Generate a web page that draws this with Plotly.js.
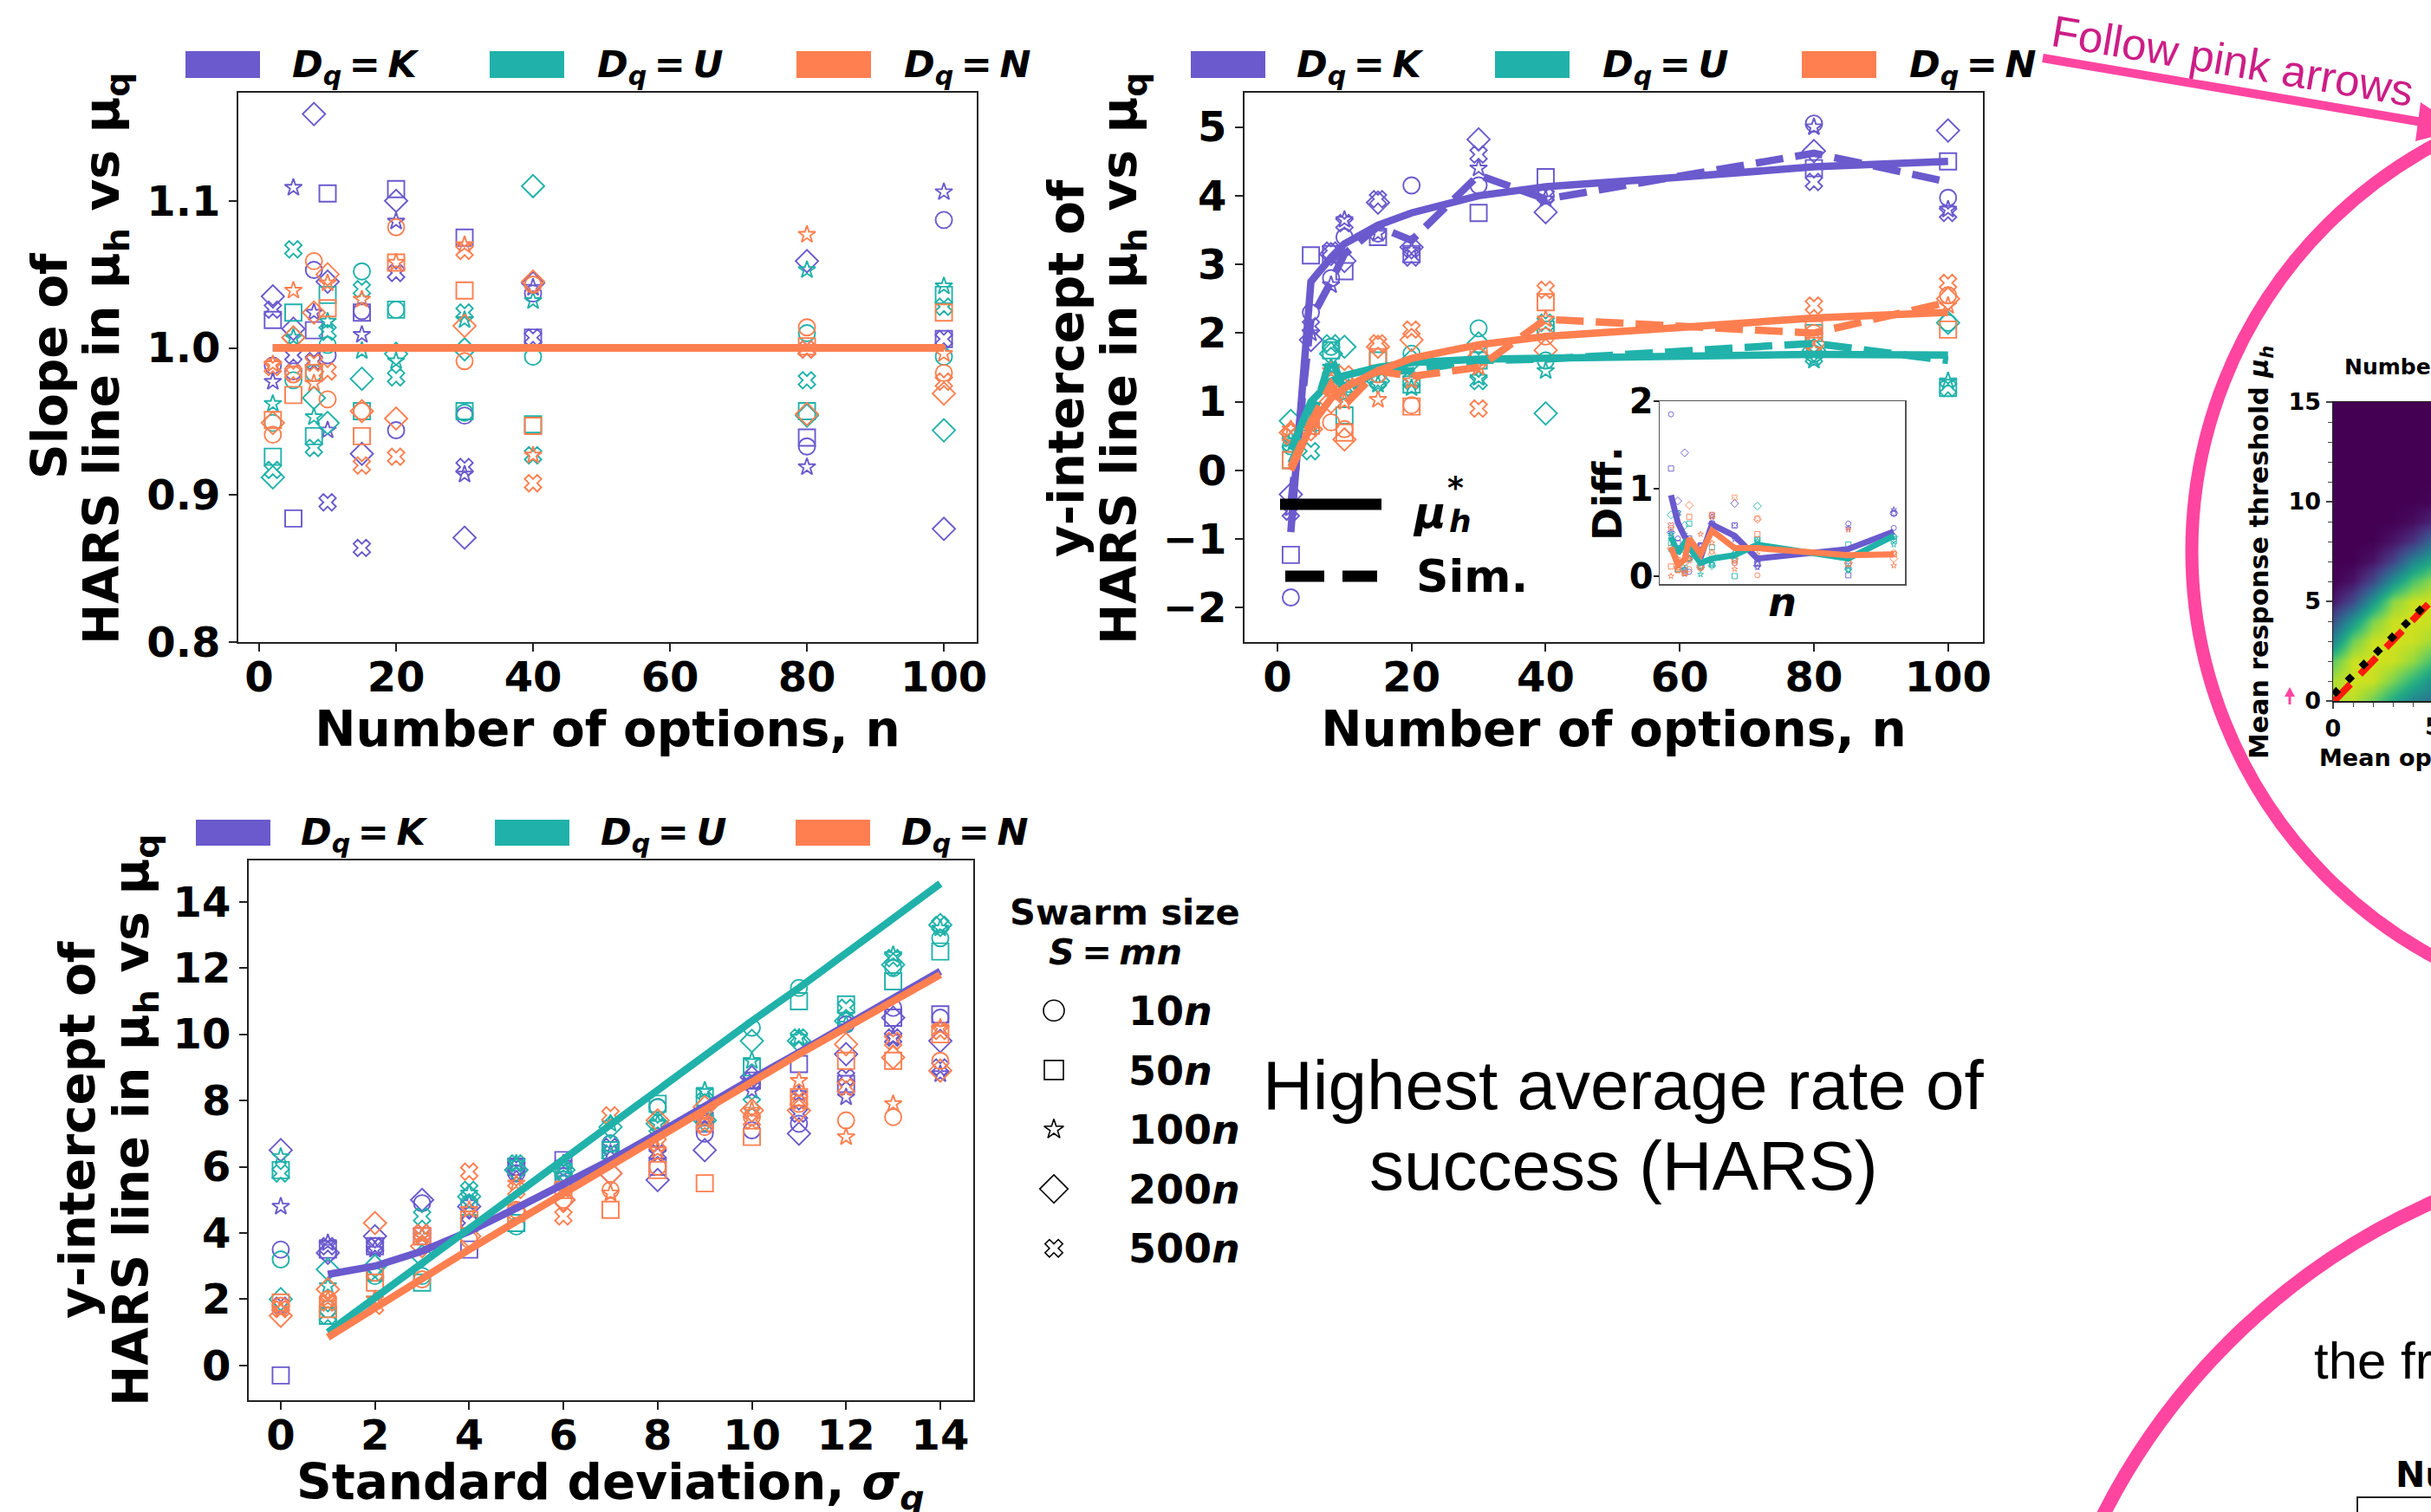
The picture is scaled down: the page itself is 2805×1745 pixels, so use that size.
<!DOCTYPE html>
<html><head><meta charset="utf-8">
<script src="https://cdn.plot.ly/plotly-3.0.1.min.js"></script>
<style>html,body{margin:0;padding:0;background:#fff;overflow:hidden}</style>
</head><body><div id="chart" style="width:2805px;height:1745px"></div>
<script>
const optionCounts = [2,5,8,10,15,20,30,40,80,100];
const sigmaValues = [0,1,2,3,4,5,6,7,8,9,10,11,12,13,14];

// Slope panel: swarm sizes 10n, 50n, 100n, 200n, 500n
const slopeK10 = [0.988,0.984,1.053,0.995,1.025,0.944,0.954,1.037,0.933,1.087];
const slopeK50 = [1.019,0.884,1.012,1.105,1.024,1.108,1.075,1.007,0.939,1.006];
const slopeK100 = [0.977,1.109,1.024,0.944,1.009,1.086,0.914,1.041,0.919,1.106];
const slopeK200 = [1.035,1.013,1.159,1.045,0.928,1.1,0.871,1.044,1.059,0.877];
const slopeK500 = [1.026,0.995,0.991,0.895,0.864,1.051,0.919,1.007,0.999,1.006];
const slopeU10 = [0.949,0.978,0.983,1.002,1.052,1.026,0.956,0.994,1.01,0.994];
const slopeU50 = [0.926,1.024,0.94,1.036,0.957,1.026,0.957,0.948,0.957,1.036];
const slopeU100 = [0.962,1.007,0.953,1.018,0.998,0.991,1.019,1.032,1.053,1.042];
const slopeU200 = [0.912,1.007,0.966,0.949,0.979,0.996,0.999,1.11,0.954,0.944];
const slopeU500 = [0.917,1.067,0.932,1.011,1.04,0.98,1.024,0.927,0.978,1.028];
const slopeN10 = [0.941,0.982,1.059,0.965,0.957,1.082,0.991,1.043,1.014,0.983];
const slopeN50 = [0.951,0.968,0.983,1.027,0.94,1.058,1.039,0.947,1.001,1.024];
const slopeN100 = [0.989,1.039,0.976,1.044,1.033,1.058,1.07,0.927,1.077,0.996];
const slopeN200 = [0.949,1.007,1.024,1.05,0.957,0.952,1.015,1.045,0.955,0.969];
const slopeN500 = [0.987,0.983,0.99,0.984,0.92,0.926,1.066,0.908,0.999,0.977];
const slopeUnity = [1,1,1,1,1,1,1,1,1,1];

// y-intercept versus n panel
const interK10 = [-1.85,2.3,2.8,3.4,3.45,4.15,4.15,4.0,5.05,3.97];
const interK50 = [-1.23,3.13,3.15,2.9,3.4,3.15,3.75,4.27,4.4,4.5];
const interK100 = [-0.55,2.0,2.7,3.65,3.45,3.2,4.4,3.95,5.0,3.8];
const interK200 = [-0.35,1.9,3.15,3.05,3.9,3.25,4.82,3.76,4.65,4.95];
const interK500 = [-0.6,2.1,3.2,3.6,3.95,3.1,4.6,4.0,4.2,3.75];
const interU10 = [0.35,0.8,1.8,1.3,1.4,1.7,2.07,1.6,1.7,2.15];
const interU50 = [0.15,0.7,1.75,0.8,1.6,1.25,1.6,2.05,2.0,1.2];
const interU100 = [0.45,0.65,1.5,1.1,1.25,1.2,1.35,1.45,1.6,1.3];
const interU200 = [0.72,0.85,1.7,1.8,1.3,1.6,1.85,0.83,1.75,2.15];
const interU500 = [0.4,0.28,1.85,1.2,1.3,1.3,1.3,2.15,1.65,1.2];
const interN10 = [0.55,0.7,0.7,0.6,1.4,0.95,1.65,1.95,2.0,2.55];
const interN50 = [0.15,0.65,1.3,0.55,1.65,0.93,1.7,2.45,2.05,2.05];
const interN100 = [0.6,0.6,1.45,1.0,1.03,1.3,1.5,2.2,1.75,2.4];
const interN200 = [0.55,0.6,1.0,0.45,1.8,1.9,1.65,1.75,1.85,2.5];
const interN500 = [0.5,0.75,1.2,1.4,1.85,2.05,0.9,2.63,2.4,2.73];
const theoryCounts = [2,5,8,10,15,20,30,40,60,80,100];
const theoryK = [-0.9,2.75,3.1,3.3,3.57,3.75,4.0,4.13,4.27,4.42,4.5];
const theoryU = [0.3,1.0,1.3,1.38,1.5,1.57,1.62,1.63,1.67,1.69,1.68];
const theoryN = [0.0,0.65,1.05,1.2,1.45,1.63,1.83,1.95,2.08,2.22,2.3];
const simK = [-0.5,2.2,2.75,3.15,3.55,3.35,4.3,3.95,4.62,4.2];
const simU = [0.1,0.7,1.65,1.15,1.45,1.45,1.6,1.62,1.85,1.6];
const simN = [0.05,0.7,1.25,0.95,1.45,1.37,1.5,2.2,2.0,2.45];

// Inset: difference panel
const diffK10 = [1.85,0.43,0.04,0.05,0.35,0.7,0.15,0.14,0.6,0.55];
const diffK50 = [1.23,0.38,0.06,0.43,0.35,0.6,0.58,0.15,0.01,0.72];
const diffK100 = [0.5,0.72,0.08,0.4,0.35,0.68,0.42,0.1,0.55,0.76];
const diffK200 = [0.5,0.86,1.41,0.2,0.12,0.6,0.83,0.12,0.15,0.72];
const diffK500 = [0.58,0.72,0.03,0.2,0.35,0.58,0.58,0.14,0.12,0.72];
const diffU10 = [0.3,0.07,0.07,0.2,0.1,0.13,0.18,0.42,0.08,0.45];
const diffU50 = [0.38,0.08,0.34,0.6,0.12,0.33,0.0,0.42,0.36,0.42];
const diffU100 = [0.48,0.28,0.48,0.2,0.02,0.14,0.22,0.4,0.07,0.36];
const diffU200 = [0.7,0.3,0.58,0.4,0.1,0.12,0.25,0.8,0.08,0.45];
const diffU500 = [0.45,0.72,0.1,0.2,0.1,0.13,0.25,0.42,0.15,0.4];
const diffN10 = [0.55,0.1,0.04,0.08,0.1,0.28,0.15,0.01,0.2,0.27];
const diffN50 = [0.11,0.07,0.3,0.68,0.1,0.7,0.18,0.48,0.14,0.25];
const diffN100 = [0.0,0.2,0.03,0.2,0.48,0.38,0.08,0.25,0.53,0.12];
const diffN200 = [0.32,0.1,0.15,0.81,0.1,0.25,0.2,0.65,0.15,0.2];
const diffN500 = [0.58,0.07,0.03,0.18,0.12,0.68,0.9,0.66,0.2,0.25];
const diffLineK = [0.925,0.61,0.45,0.38,0.21,0.59,0.46,0.2,0.31,0.51];
const diffLineU = [0.45,0.26,0.38,0.33,0.15,0.2,0.24,0.36,0.2,0.46];
const diffLineN = [0.33,0.13,0.19,0.43,0.25,0.52,0.32,0.32,0.24,0.25];

// y-intercept versus standard deviation panel
const sigK10 = [3.5,3.4,3.6,4.9,4.3,5.8,5.5,6.7,7.8,7.0,7.1,7.3,10.3,10.8,10.5];
const sigK50 = [-0.3,3.5,3.6,3.9,3.5,6.0,6.2,6.5,6.0,7.3,8.6,9.1,8.5,10.5,10.6];
const sigK100 = [4.8,3.7,3.5,3.9,4.9,5.8,6.1,6.4,6.4,7.5,8.3,8.2,8.1,9.9,8.8];
const sigK200 = [6.5,3.4,3.9,5.0,4.8,5.9,5.0,5.8,5.6,6.5,8.7,7.0,9.4,10.5,9.8];
const sigK500 = [1.8,3.6,3.6,4.0,4.3,6.0,5.6,6.6,6.4,7.5,8.6,7.6,8.7,9.9,9.0];
const sigU10 = [3.2,1.7,2.7,2.7,4.9,4.2,5.8,6.7,7.8,7.5,10.2,11.4,10.4,12.0,12.9];
const sigU50 = [5.9,1.5,2.8,2.5,4.3,4.3,5.6,6.5,7.9,8.1,9.0,11.0,10.9,11.6,12.5];
const sigU100 = [6.3,2.4,2.0,3.9,5.2,6.1,6.0,7.3,7.3,8.3,9.2,9.9,10.3,12.4,13.2];
const sigU200 = [2.0,2.9,3.0,3.3,5.1,5.9,5.9,7.2,7.3,7.4,9.8,9.8,10.4,12.1,13.3];
const sigU500 = [5.8,1.5,2.8,4.5,5.3,6.1,5.9,6.4,7.2,8.0,7.9,9.9,10.8,12.3,13.3];
const sigN10 = [1.8,2.0,2.8,2.6,3.8,4.7,5.0,5.3,6.0,7.2,7.5,7.9,7.4,7.5,9.2];
const sigN50 = [1.9,1.7,2.5,3.9,4.4,4.6,5.3,4.7,5.9,5.5,6.9,8.1,9.2,9.2,10.0];
const sigN100 = [1.7,2.0,2.0,3.9,4.7,5.5,5.3,5.2,6.5,7.4,7.7,8.6,6.9,7.9,10.2];
const sigN200 = [1.5,2.3,4.3,3.6,3.9,4.6,5.0,5.8,7.4,7.8,7.7,7.7,9.7,9.3,8.9];
const sigN500 = [1.7,1.9,1.8,4.0,5.85,5.3,4.5,7.55,6.7,7.3,7.4,8.0,8.4,9.8,10.1];
const sigLineX = [1,2,3,4,5,6,7,8,9,10,11,12,13,14];
const sigLineK = [2.75,3.0,3.45,4.05,4.75,5.45,6.2,7.0,7.85,8.65,9.45,10.25,11.1,11.9];
const sigLineU = [1.0,2.05,3.1,4.15,5.2,6.25,7.3,8.3,9.35,10.4,11.4,12.45,13.5,14.55];
const sigLineN = [0.85,1.75,2.6,3.5,4.35,5.2,6.05,6.9,7.75,8.6,9.4,10.2,11.0,11.8];

// Cropped heatmap at the right edge
const heatX = [0,1,2,3,4,5];
const heatY = [0,1,2,3,4,5,6,7,8,9,10,11,12,13,14,15];
const heatRow0 = [0.88,0.9,0.78,0.6,0.45,0.38];
const heatRow1 = [0.88,0.93,0.92,0.8,0.65,0.5];
const heatRow2 = [0.75,0.92,0.93,0.92,0.84,0.7];
const heatRow3 = [0.45,0.78,0.92,0.93,0.92,0.86];
const heatRow4 = [0.25,0.52,0.8,0.92,0.93,0.92];
const heatRow5 = [0.06,0.22,0.52,0.82,0.92,0.93];
const heatRow6 = [0,0.05,0.22,0.5,0.72,0.84];
const heatRow7 = [0,0,0.05,0.2,0.45,0.6];
const heatRow8 = [0,0,0,0.05,0.15,0.35];
const heatRow9 = [0,0,0,0,0.03,0.1];
const heatRow10 = [0,0,0,0,0,0.01];
const heatRowZero = [0,0,0,0,0,0];
const heatDiamondX = [0.145,0.84,1.54,2.25,2.96,3.65,4.35];
const heatDiamondY = [0.45,1.13,1.83,2.5,3.19,3.87,4.55];
const heatLineX = [0.05,4.91];
const heatLineY = [0,5.0];

const swarmLabels = ['10','50','100','200','500'];
const distNames = ['K','U','N'];

const W = 2805, H = 1745;
const X = p => p / W, Y = p => 1 - p / H;
const font = 'DejaVu Sans, sans-serif';
const sans = 'Liberation Sans, Arial, sans-serif';
const PURPLE = '#6A5ACD', TEAL = '#20B2AA', CORAL = '#FF7F50', PINK = '#FF45A0';
const symbols = ['circle-open','square-open','star-open','diamond-open','x-open'];
const bigSizes = [19,19,15,20,17];
const smallSizes = [6,6,5,7,6];
const swarmSizes = [24,22,17,25,18];

const traces = [];
function addMarkers(xa, ya, xs, groups, color, sizes, lw){
  groups.forEach((ys, i) => traces.push({type:'scatter', mode:'markers', xaxis:xa, yaxis:ya, x:xs, y:ys, showlegend:false,
    marker:{symbol:symbols[i], size:sizes[i], color:color, line:{color:color, width:lw}}}));
}
function addLine(xa, ya, xs, ys, color, width, dash){
  traces.push({type:'scatter', mode:'lines', xaxis:xa, yaxis:ya, x:xs, y:ys, showlegend:false,
    line:{color:color, width:width, dash:dash||'solid'}});
}
const DASH = '32px,14px';
// Slope panel
addMarkers('x','y',optionCounts,[slopeK10,slopeK50,slopeK100,slopeK200,slopeK500],PURPLE,bigSizes,1.9);
addMarkers('x','y',optionCounts,[slopeU10,slopeU50,slopeU100,slopeU200,slopeU500],TEAL,bigSizes,1.9);
addMarkers('x','y',optionCounts,[slopeN10,slopeN50,slopeN100,slopeN200,slopeN500],CORAL,bigSizes,1.9);
addLine('x','y',optionCounts,slopeUnity,PURPLE,9);
addLine('x','y',optionCounts,slopeUnity,TEAL,9);
addLine('x','y',optionCounts,slopeUnity,CORAL,9);
// Intercept panel
addMarkers('x2','y2',optionCounts,[interK10,interK50,interK100,interK200,interK500],PURPLE,bigSizes,1.9);
addMarkers('x2','y2',optionCounts,[interU10,interU50,interU100,interU200,interU500],TEAL,bigSizes,1.9);
addMarkers('x2','y2',optionCounts,[interN10,interN50,interN100,interN200,interN500],CORAL,bigSizes,1.9);
addLine('x2','y2',optionCounts,simK,PURPLE,8.5,DASH);
addLine('x2','y2',theoryCounts,theoryK,PURPLE,8.5);
addLine('x2','y2',optionCounts,simU,TEAL,8.5,DASH);
addLine('x2','y2',theoryCounts,theoryU,TEAL,8.5);
addLine('x2','y2',optionCounts,simN,CORAL,8.5,DASH);
addLine('x2','y2',theoryCounts,theoryN,CORAL,8.5);
// Inset
addMarkers('x3','y3',optionCounts,[diffK10,diffK50,diffK100,diffK200,diffK500],PURPLE,smallSizes,0.9);
addMarkers('x3','y3',optionCounts,[diffU10,diffU50,diffU100,diffU200,diffU500],TEAL,smallSizes,0.9);
addMarkers('x3','y3',optionCounts,[diffN10,diffN50,diffN100,diffN200,diffN500],CORAL,smallSizes,0.9);
addLine('x3','y3',optionCounts,diffLineK,PURPLE,7);
addLine('x3','y3',optionCounts,diffLineU,TEAL,7);
addLine('x3','y3',optionCounts,diffLineN,CORAL,7);
// Sigma panel
addMarkers('x4','y4',sigmaValues,[sigK10,sigK50,sigK100,sigK200,sigK500],PURPLE,bigSizes,1.9);
addMarkers('x4','y4',sigmaValues,[sigU10,sigU50,sigU100,sigU200,sigU500],TEAL,bigSizes,1.9);
addMarkers('x4','y4',sigmaValues,[sigN10,sigN50,sigN100,sigN200,sigN500],CORAL,bigSizes,1.9);
addLine('x4','y4',sigLineX,sigLineK,PURPLE,8.5);
addLine('x4','y4',sigLineX,sigLineU,TEAL,8.5);
addLine('x4','y4',sigLineX,sigLineN,CORAL,8.5);
// Heatmap
traces.push({type:'heatmap', xaxis:'x5', yaxis:'y5', x:heatX, y:heatY, colorscale:'Viridis', zmin:0, zmax:1, zsmooth:'best', showscale:false,
  z:[heatRow0,heatRow1,heatRow2,heatRow3,heatRow4,heatRow5,heatRow6,heatRow7,heatRow8,heatRow9,heatRow10,heatRowZero,heatRowZero,heatRowZero,heatRowZero,heatRowZero]});
addLine('x5','y5',heatLineX,heatLineY,'#FF1A0A',8,'27px,16px');
traces.push({type:'scatter', mode:'markers', xaxis:'x5', yaxis:'y5', x:heatDiamondX, y:heatDiamondY, showlegend:false,
  marker:{symbol:'diamond', size:9, color:'#000'}});
// Swarm size key
swarmLabels.forEach((s,i)=>traces.push({type:'scatter', mode:'markers', xaxis:'x6', yaxis:'y6', x:[0], y:[i], showlegend:false,
  marker:{symbol:symbols[i], size:swarmSizes[i], color:'#000', line:{color:'#000', width:1.6}}}));

function panelAxes(xd, yd, xr, yr, xticks, yticks, fs){
  const base = {showline:true, mirror:true, linecolor:'#222', linewidth:2, showgrid:false, zeroline:false,
    ticks:'outside', ticklen:9, tickwidth:2, tickcolor:'#222', tickmode:'array', tickfont:{family:font,size:fs,color:'#000',weight:'bold'}};
  return [
    Object.assign({}, base, {domain:[X(xd[0]),X(xd[1])], range:xr, tickvals:xticks, ticktext:xticks.map(String), ticklabelstandoff:-12}),
    Object.assign({}, base, {domain:[Y(yd[1]),Y(yd[0])], range:yr, tickvals:yticks, ticktext:yticks.map(t=> t<0?'\u2212'+(-t):String(t))})
  ];
}
const layout = {width:W, height:H, margin:{l:0,r:0,t:0,b:0,pad:0}, paper_bgcolor:'#fff', plot_bgcolor:'#fff', showlegend:false, font:{family:font}};
const titleFont = {family:font,size:56.5,color:'#000',weight:'bold'};
[layout.xaxis, layout.yaxis] = panelAxes([275,1127],[107,741],[-3.04,104.8],[0.8,1.1735],[0,20,40,60,80,100],[0.8,0.9,1.0,1.1],48);
layout.yaxis.ticktext = ['0.8','0.9','1.0','1.1'];
[layout.xaxis2, layout.yaxis2] = panelAxes([1436,2288],[107,741],[-4.9,105.2],[-2.5,5.5],[0,20,40,60,80,100],[-2,-1,0,1,2,3,4,5],48);
[layout.xaxis3, layout.yaxis3] = panelAxes([1915,2198],[463,674],[-3,104.9],[-0.09,2],[],[0,1,2],40);
layout.xaxis3.ticks=''; layout.xaxis3.showticklabels=false; layout.xaxis3.linewidth=1.5; layout.yaxis3.linewidth=1.5; layout.xaxis3.linecolor='#555'; layout.yaxis3.linecolor='#555';
layout.yaxis3.ticklen=6; layout.yaxis3.ticklabelstandoff=-8;
[layout.xaxis4, layout.yaxis4] = panelAxes([287,1123],[993,1616],[-0.68,14.7],[-1.05,15.25],[0,2,4,6,8,10,12,14],[0,2,4,6,8,10,12,14],48);
layout.xaxis.anchor='y'; layout.yaxis.anchor='x';
layout.xaxis2.anchor='y2'; layout.yaxis2.anchor='x2';
layout.xaxis3.anchor='y3'; layout.yaxis3.anchor='x3';
layout.xaxis4.anchor='y4'; layout.yaxis4.anchor='x4';
layout.xaxis.title={text:'Number of options, n',font:titleFont,standoff:10};
layout.xaxis2.title={text:'Number of options, n',font:titleFont,standoff:10};
layout.xaxis3.title={text:'<i>n</i>',font:{family:font,size:46,color:'#000',weight:'bold'},standoff:4};
const heatFont = {family:font,size:27,color:'#000',weight:'bold'};
layout.xaxis5 = {domain:[X(2692),1], range:[0,4.91], anchor:'y5', showline:true, mirror:true, linecolor:'#222', linewidth:1.5, showgrid:false, zeroline:false,
  ticks:'outside', ticklen:7, tickwidth:1.5, tickmode:'array', tickvals:[0,5], ticktext:['0','5'], tickfont:heatFont, minor:{dtick:1,ticks:'outside',ticklen:5,tickwidth:1}};
layout.yaxis5 = {domain:[Y(809),Y(464)], range:[0,15], anchor:'x5', showline:true, linecolor:'#222', linewidth:1.5, showgrid:false, zeroline:false,
  ticks:'outside', ticklen:7, tickwidth:1.5, tickmode:'array', tickvals:[0,5,10,15], ticktext:['0','5','10','15'], tickfont:heatFont, minor:{dtick:1,ticks:'outside',ticklen:5,tickwidth:1}};
layout.xaxis6 = {domain:[X(1190),X(1242)], range:[-1,1], anchor:'y6', visible:false, fixedrange:true};
layout.yaxis6 = {domain:[Y(1475),Y(1132)], range:[4.5,-0.5], anchor:'x6', visible:false, fixedrange:true};

const shapes = [], annotations = [];
function txt(x,y,text,size,opts){
  annotations.push(Object.assign({xref:'paper',yref:'paper',x:X(x),y:Y(y),text:text,showarrow:false,xanchor:'left',yanchor:'middle',
    font:{family:font,size:size,color:'#000'}},opts||{}));
}
function legendRow(patchX, textX, y0, y1){
  [PURPLE,TEAL,CORAL].forEach((c,i)=>{
    shapes.push({type:'rect',xref:'paper',yref:'paper',x0:X(patchX[i]),x1:X(patchX[i]+86),y0:Y(y1),y1:Y(y0),fillcolor:c,line:{width:0}});
    txt(textX[i],(y0+y1)/2+2,'<b><i>D<sub>q</sub>\u2009=\u2009'+distNames[i]+'</i></b>',43);
  });
}
legendRow([214,565,919],[335,687,1041],59,90);
legendRow([1374,1725,2079],[1494,1847,2201],59,90);
legendRow([226,571,918],[345,691,1038],946,976);
// rotated y titles and the lower x title
const hars = '<b>HARS line in μ<sub>h</sub> vs μ<sub>q</sub></b>';
txt(57,422,'<b>Slope of</b>',56.5,{xanchor:'center',textangle:-90});
txt(121,414,hars,56.5,{xanchor:'center',textangle:-90});
txt(1231,425,'<b>y-intercept of</b>',56.5,{xanchor:'center',textangle:-90});
txt(1295,414,hars,56.5,{xanchor:'center',textangle:-90});
txt(89,1304,'<b>y-intercept of</b>',56.5,{xanchor:'center',textangle:-90});
txt(155,1293,hars,56.5,{xanchor:'center',textangle:-90});
txt(1855,570,'<b>Diff.</b>',46,{xanchor:'center',textangle:-90});
txt(704,1714,'<b>Standard deviation, <i>σ<sub>q</sub></i></b>',56.5,{xanchor:'center'});
// line-style key in the intercept panel
shapes.push({type:'line',xref:'paper',yref:'paper',x0:X(1477),x1:X(1594),y0:Y(582),y1:Y(582),line:{color:'#000',width:13}});
shapes.push({type:'line',xref:'paper',yref:'paper',x0:X(1483),x1:X(1528),y0:Y(665),y1:Y(665),line:{color:'#000',width:13}});
shapes.push({type:'line',xref:'paper',yref:'paper',x0:X(1549),x1:X(1589),y0:Y(665),y1:Y(665),line:{color:'#000',width:13}});
txt(1628,592,'<b><i>μ</i></b>',50);
txt(1668,562,'<b>*</b>',36);
txt(1670,602,'<b><i>h</i></b>',36);
txt(1632,665,'<b>Sim.</b>',52);
// swarm key
txt(1298,1052,'<b>Swarm size</b>',41.5,{xanchor:'center'});
txt(1287,1098,'<b><i>S\u2009=\u2009mn</i></b>',41.5,{xanchor:'center'});
swarmLabels.forEach((s,i)=>txt(1300,1167+68.5*i,'<b>'+s+'<i>n</i></b>',46));
// centred statement
txt(1873,1252,'Highest average rate of',80,{xanchor:'center',font:{family:sans,size:80,color:'#000'}});
txt(1873,1345,'success (HARS)',80,{xanchor:'center',font:{family:sans,size:80,color:'#000'}});
// pink arrow and arcs
shapes.push({type:'line',xref:'paper',yref:'paper',x0:X(2357),y0:Y(67),x1:X(2795),y1:Y(141),line:{color:PINK,width:10}});
shapes.push({type:'path',xref:'paper',yref:'paper',path:`M ${X(2793)} ${Y(118)} L ${X(2787)} ${Y(163)} L ${X(2840)} ${Y(149)} Z`,fillcolor:PINK,line:{width:0}});
txt(2576,70,'Follow pink arrows',51,{xanchor:'center',textangle:9.6,font:{family:sans,size:51,color:'#CC1E86'}});
shapes.push({type:'circle',xref:'paper',yref:'paper',x0:X(3061-532),x1:X(3061+532),y0:Y(636+532),y1:Y(636-532),line:{color:PINK,width:15}});
shapes.push({type:'circle',xref:'paper',yref:'paper',x0:X(3125-783),x1:X(3125+783),y0:Y(2103+783),y1:Y(2103-783),line:{color:PINK,width:16}});
// small pink up arrow beside the heatmap
shapes.push({type:'line',xref:'paper',yref:'paper',x0:X(2642),y0:Y(813),x1:X(2642),y1:Y(800),line:{color:PINK,width:3}});
shapes.push({type:'path',xref:'paper',yref:'paper',path:`M ${X(2636)} ${Y(804)} L ${X(2648)} ${Y(804)} L ${X(2642)} ${Y(793)} Z`,fillcolor:PINK,line:{width:0}});
// cropped fragments of the neighbouring panels
txt(2608,638,'<b>Mean response threshold <i>μ<sub>h</sub></i></b>',30,{xanchor:'center',textangle:-90});
txt(2703,424,'<b>Numbe</b>',25);
txt(2674,874,'<b>Mean op</b>',27);
txt(2807,838,'<b>5</b>',27,{xanchor:'center'});
txt(2668,1570,'the fr',60,{font:{family:sans,size:60,color:'#000'}});
txt(2762,1702,'<b>Nu</b>',41);
shapes.push({type:'rect',xref:'paper',yref:'paper',x0:X(2720),x1:X(2830),y0:Y(1770),y1:Y(1728),line:{color:'#222',width:2}});
layout.shapes = shapes; layout.annotations = annotations;
Plotly.newPlot('chart', traces, layout, {staticPlot:true, displayModeBar:false});
</script></body></html>
